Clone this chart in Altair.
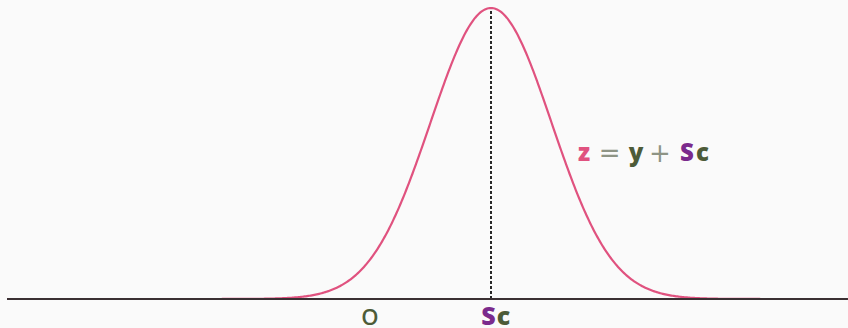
import altair as alt
import numpy as np
import pandas as pd

# Bell curve parameters; x is measured so that O = 0 and one unit = one spread
center = 2.0      # position of Sc
spread = 1.0
peak = 1.0
x_start, x_end = -6.0, 7.9

x_domain = [-6.116, 7.901]
y_domain = [-0.0997, 1.0275]

PINK = "#e0527f"
PURPLE = "#7b2a8c"
GREEN = "#4d5b38"
GREY = "#8e9485"
FONT = "Open Sans"

# colour roles shared by all text pieces
roles = ["z", "y", "S", "op"]
role_colors = [PINK, GREEN, PURPLE, GREY]

# Formula label "z = y + Sc" pieces
formula_text = ["z", "y", "S", "c"]
formula_x = [3.537, 4.397, 5.240, 5.496]
formula_role = ["z", "y", "S", "y"]
operator_text = ["=", "+"]
operator_x = [3.959, 4.793]
formula_y = 0.474

# Labels under the baseline
axis_text = ["S", "c"]
axis_x = [1.959, 2.207]
axis_role = ["S", "y"]
origin_text = ["O"]
origin_x = [0.0]
axis_y = -0.089

xs = alt.Scale(domain=x_domain, nice=False, zero=False)
ys = alt.Scale(domain=y_domain, nice=False, zero=False)
cs = alt.Scale(domain=roles, range=role_colors)

# sample positions along x; the density itself is computed by Vega
grid = pd.DataFrame({"x": np.round(np.arange(x_start, x_end + 0.001, 0.02), 3)})

curve = (
    alt.Chart(grid)
    .transform_calculate(
        y=f"{peak} * exp(-pow(datum.x - {center}, 2) / (2 * {spread} * {spread}))"
    )
    .mark_line(color=PINK, strokeWidth=2.2)
    .encode(x=alt.X("x:Q", scale=xs, axis=None), y=alt.Y("y:Q", scale=ys, axis=None))
)

baseline = (
    alt.Chart(pd.DataFrame({"x": [x_start], "x2": [x_end], "y": [0.0]}))
    .mark_rule(color="#3a3033", strokeWidth=2)
    .encode(x=alt.X("x:Q", scale=xs, axis=None), x2="x2:Q",
            y=alt.Y("y:Q", scale=ys, axis=None))
)

drop = (
    alt.Chart(pd.DataFrame({"x": [center], "y": [0.0], "y2": [peak]}))
    .mark_rule(color="#111111", strokeWidth=1.8, strokeDash=[3, 2])
    .encode(x=alt.X("x:Q", scale=xs, axis=None),
            y=alt.Y("y:Q", scale=ys, axis=None), y2="y2:Q")
)


def text_layer(texts, xvals, role, yval, size, weight, font=FONT, dy=0):
    df = pd.DataFrame({"t": texts, "x": xvals, "r": role, "y": yval})
    return (
        alt.Chart(df)
        .mark_text(font=font, fontSize=size, fontWeight=weight,
                   baseline="alphabetic", align="center", dy=dy)
        .encode(x=alt.X("x:Q", scale=xs, axis=None),
                y=alt.Y("y:Q", scale=ys, axis=None),
                text="t:N",
                color=alt.Color("r:N", scale=cs, legend=None))
    )


formula = text_layer(formula_text, formula_x, formula_role, formula_y, 24, 800)
operators = text_layer(operator_text, operator_x, ["op", "op"], formula_y, 26, "normal",
                       font="DejaVu Sans", dy=1)
sc_label = text_layer(axis_text, axis_x, axis_role, axis_y, 25, 800)
origin_label = text_layer(origin_text, origin_x, ["y"], axis_y, 22, 600)

chart = (
    alt.layer(drop, curve, baseline, formula, operators, sc_label, origin_label)
    .properties(width=848, height=328, background="#fafafa", padding=0,
                autosize=alt.AutoSizeParams(type="none"))
    .configure_view(strokeWidth=0)
)

chart.save("out.html", embed_options={"renderer": "svg", "actions": False})
